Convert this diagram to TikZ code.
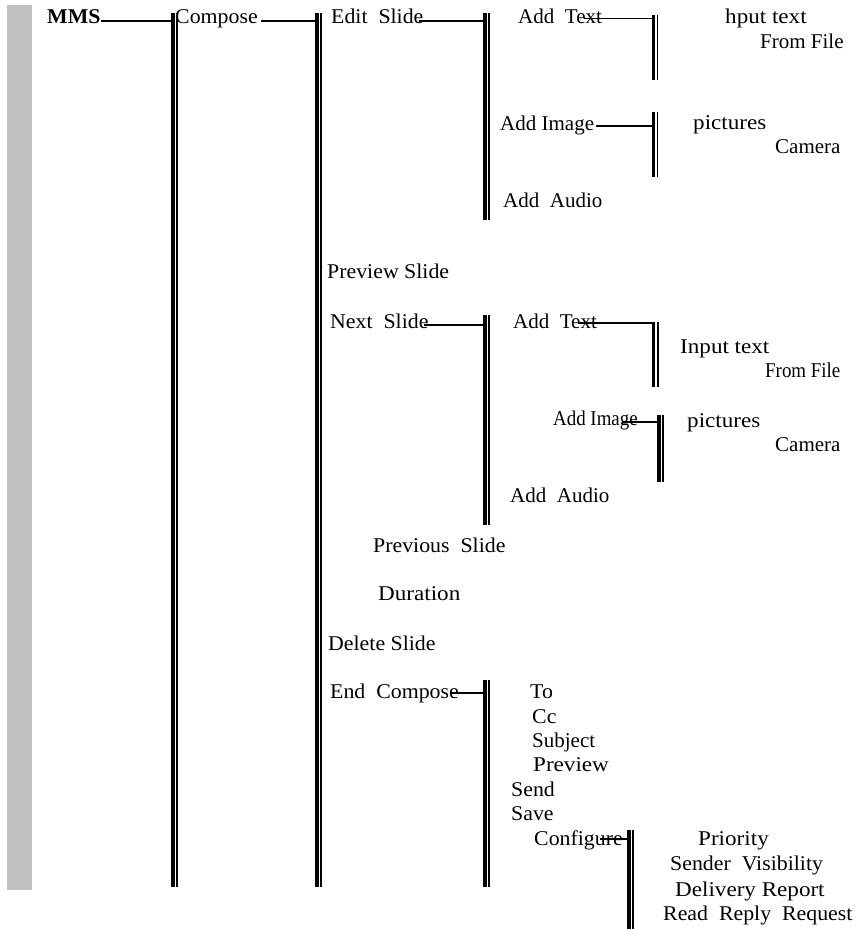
\documentclass[tikz,border=0pt]{standalone}
\usepackage{fontspec}
\setmainfont[FakeStretch=1.04]{Liberation Serif}
\newfontfamily\widefont[FakeStretch=1.1]{Liberation Serif}
\newfontfamily\narrowfont[FakeStretch=0.9]{Liberation Serif}
\newfontfamily\plainfont{Liberation Serif}
\definecolor{bargray}{RGB}{192,192,192}
\newcommand\mydbar[4]{%
  \coordinate (#1t) at (#2,#3);
  \coordinate (#1b) at (#2,#4);
  \draw[thickbar] (#1t) -- (#1b);
  \draw[thinbar] ([xshift=4.2pt]#1t) -- ([xshift=4.2pt]#1b);}
\begin{document}
\begin{tikzpicture}[x=1pt,y=-1pt,
  lbl/.style={anchor=base west,inner sep=0pt,font=\fontsize{21}{24}\selectfont},
  conn/.style={line width=1.5pt},
  thickbar/.style={line width=3.6pt},
  thinbar/.style={line width=1.6pt}]
\useasboundingbox (0,0) rectangle (866,929);
\fill[bargray] (7,5) rectangle (32,890);

% labels
\node[lbl,font=\fontsize{21}{24}\selectfont\bfseries] (mms) at (47,23) {MMS};
\node[lbl] (compose) at (175,23.5) {Compose};
\node[lbl] (edit) at (331,23.5) {Edit~~Slide};
\node[lbl,font=\fontsize{21}{24}\plainfont] (addtext1) at (518,23) {Add~~Text};
\node[lbl,font=\fontsize{21}{24}\widefont] (input1) at (725,23) {hput text};
\node[lbl,font=\fontsize{21}{24}\plainfont] (file1) at (760,48) {From~File};
\node[lbl,font=\fontsize{21}{24}\plainfont] (addimg1) at (500,130) {Add Image};
\node[lbl,font=\fontsize{21}{24}\widefont] (pict1) at (693,129) {pictures};
\node[lbl,font=\fontsize{21}{24}\plainfont] (cam1) at (775,153) {Camera};
\node[lbl,font=\fontsize{21}{24}\plainfont] (audio1) at (503,207) {Add~~Audio};
\node[lbl] (preview) at (327,278) {Preview Slide};
\node[lbl] (next) at (330,328) {Next~~Slide};
\node[lbl,font=\fontsize{21}{24}\plainfont] (addtext2) at (513,328) {Add~~Text};
\node[lbl,font=\fontsize{21}{24}\widefont] (input2) at (680,353) {Input text};
\node[lbl,font=\fontsize{21}{24}\narrowfont] (file2) at (765,377) {From File};
\node[lbl,font=\fontsize{21}{24}\narrowfont] (addimg2) at (553,425) {Add~Image};
\node[lbl,font=\fontsize{21}{24}\widefont] (pict2) at (687,427) {pictures};
\node[lbl,font=\fontsize{21}{24}\plainfont] (cam2) at (775,451) {Camera};
\node[lbl,font=\fontsize{21}{24}\plainfont] (audio2) at (510,502) {Add~~Audio};
\node[lbl] (prev) at (373,552) {Previous~~Slide};
\node[lbl,font=\fontsize{21}{24}\widefont] (dur) at (378,600) {Duration};
\node[lbl] (del) at (328,650) {Delete Slide};
\node[lbl] (end) at (330,698) {End~~Compose};
\node[lbl] (to) at (530,698) {To};
\node[lbl] (cc) at (532,723) {Cc};
\node[lbl,font=\fontsize{21}{24}\plainfont] (subj) at (532,747) {Subject};
\node[lbl,font=\fontsize{21}{24}\widefont] (prv) at (533,771) {Preview};
\node[lbl] (send) at (511,796) {Send};
\node[lbl] (save) at (511,820) {Save};
\node[lbl] (conf) at (534,845) {Configure};
\node[lbl,font=\fontsize{21}{24}\widefont] (prio) at (698,845) {Priority};
\node[lbl] (sender) at (670,870) {Sender~~Visibility};
\node[lbl,font=\fontsize{21}{24}\widefont] (deliv) at (675,896) {Delivery Report};
\node[lbl] (read) at (663,920) {Read~~Reply~~Request};

% double bars
\mydbar{b1}{173}{13}{887}
\mydbar{b2}{317}{13}{887}
\mydbar{b3}{485}{13}{220}
\mydbar{b4}{653.3}{15}{80}
\mydbar{b5}{653.3}{112}{177}
\mydbar{b6}{485}{315}{525}
\mydbar{b7}{653.5}{322}{387}
\mydbar{b8}{659}{415}{482}
\mydbar{b9}{485}{680}{887}
\mydbar{b10}{629}{830}{929}

% connectors
\path ([yshift=2pt]mms.base east) coordinate (c1);
\draw[conn] (c1) -- (c1 -| b1t);
\path ([xshift=3pt,yshift=2.5pt]compose.base east) coordinate (c2);
\draw[conn] (c2) -- (c2 -| b2t);
\path ([xshift=-5pt,yshift=2.5pt]edit.base east) coordinate (c3);
\draw[conn] (c3) -- (c3 -| b3t);
\path ([xshift=-18pt,yshift=4.5pt]addtext1.base east) coordinate (c4);
\draw[conn] (c4) -- (c4 -| b4t);
\path ([xshift=2pt,yshift=4pt]addimg1.base east) coordinate (c5);
\draw[conn] (c5) -- (c5 -| b5t);
\path ([xshift=-5pt,yshift=3pt]next.base east) coordinate (c6);
\draw[conn] (c6) -- (c6 -| b6t);
\path ([xshift=-19pt,yshift=5pt]addtext2.base east) coordinate (c7);
\draw[conn] (c7) -- (c7 -| b7t);
\path ([xshift=-16pt,yshift=3pt]addimg2.base east) coordinate (c8);
\draw[conn] (c8) -- (c8 -| b8t);
\path ([xshift=-9pt,yshift=5pt]end.base east) coordinate (c9);
\draw[conn] (c9) -- (c9 -| b9t);
\path ([xshift=-23pt,yshift=6pt]conf.base east) coordinate (c10);
\draw[conn] (c10) -- (c10 -| b10t);
\end{tikzpicture}
\end{document}
